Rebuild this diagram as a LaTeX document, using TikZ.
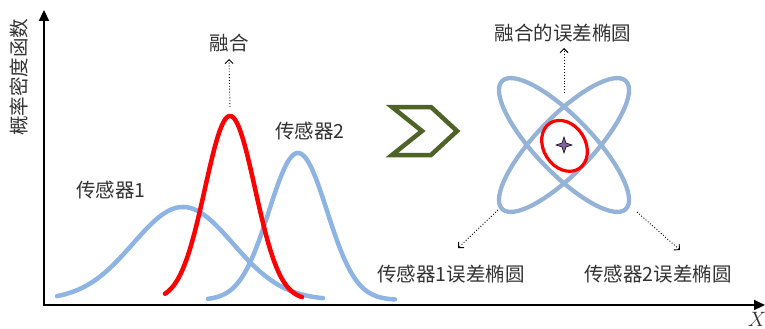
\documentclass[tikz,border=0pt]{standalone}
\usepackage{fontspec}
\newfontfamily\cjk{Noto Sans CJK SC}
\usetikzlibrary{arrows.meta}
\definecolor{bluecurve}{RGB}{141,180,226}
\definecolor{ellblue}{RGB}{149,179,215}
\definecolor{olive}{RGB}{79,98,40}
\definecolor{starpurple}{RGB}{128,100,162}
\definecolor{txt}{RGB}{50,50,50}
\tikzset{
  lbl/.style={font=\cjk\fontsize{19.5}{22}\selectfont, text=txt, inner sep=0pt},
  axis/.style={line width=2.2pt, -{Triangle[length=11pt,width=10pt]}},
  bcurve/.style={bluecurve, line width=4.5pt, line cap=round},
  rcurve/.style={red, line width=4.5pt, line cap=round},
  ell/.style={ellblue, line width=4.3pt},
  pointer/.style={dotted, line width=0.9pt, -{Straight Barb[length=4pt,width=8pt]}},
}
\begin{document}
\begin{tikzpicture}[x=1pt,y=-1pt]
\useasboundingbox (0,0) rectangle (765,329);
% axes
\coordinate (origin) at (44,305);
\coordinate (ytip) at (44,10);
\coordinate (xtip) at (765,305);
\draw[axis] (44,306.1) -- (ytip);
\draw[axis] (42.9,305) -- (xtip);
\node[font=\fontsize{20}{22}\selectfont, text=txt] (xlab) at (757,319) {$X$};
\node[lbl, rotate=90] (ylab) at (19,77) {概率密度函数};
% curves
\draw[bcurve] plot[domain=57:323, samples=120, smooth] (\x, {300 - 93*exp(-0.5*((\x-183)/50)^2)});
\draw[bcurve] plot[domain=208:395, samples=120, smooth] (\x, {300 - 147*exp(-0.5*((\x-298)/29)^2)});
\draw[rcurve] plot[domain=165:302, samples=120, smooth] (\x, {300 - 184*exp(-0.5*((\x-230)/25)^2)});
% labels left
\node[lbl] (s1) at (111,190) {传感器1};
\node[lbl] (s2) at (310,131) {传感器2};
\node[lbl] (fuse) at (229,43) {融合};
\coordinate (fpeak) at (230,107);
\draw[pointer] (fpeak) -- (fuse.south |- 0,59);
% chevron
\draw[olive, line width=4.5pt, line join=miter, fill=white]
  (392,107) -- (431,107) -- (457,131) -- (431,155) -- (392,155) -- (422,131) -- cycle;
% ellipses
\coordinate (c) at (564,145);
\draw[ell, rotate around={46:(c)}] (c) ellipse [x radius=89pt, y radius=28pt];
\draw[ell, rotate around={-46:(c)}] (c) ellipse [x radius=89pt, y radius=28pt];
\draw[red, line width=3.2pt, rotate around={-58:(c)}] (565,145) ellipse [x radius=27pt, y radius=21pt];
% four-pointed star
\draw[fill=starpurple, draw=black, line width=0.5pt]
  (564,137) -- (566,143) -- (572,145) -- (566,147) -- (564,153) -- (562,147) -- (556,145) -- (562,143) -- cycle;
% right labels and pointers
\node[lbl] (fe) at (563,33) {融合的误差椭圆};
\node[lbl] (e1) at (451,274) {传感器1误差椭圆};
\node[lbl] (e2) at (658,274) {传感器2误差椭圆};
\coordinate (ftop) at (564,93);
\coordinate (e1start) at (498,210);
\coordinate (e2start) at (637,212);
\coordinate (e1end) at (458,248);
\coordinate (e2end) at (680,250);
\coordinate (fend) at (564,48);
\draw[pointer] (ftop) -- (fend);
\draw[pointer] (e1start) -- (e1end);
\draw[pointer] (e2start) -- (e2end);
\end{tikzpicture}
\end{document}
